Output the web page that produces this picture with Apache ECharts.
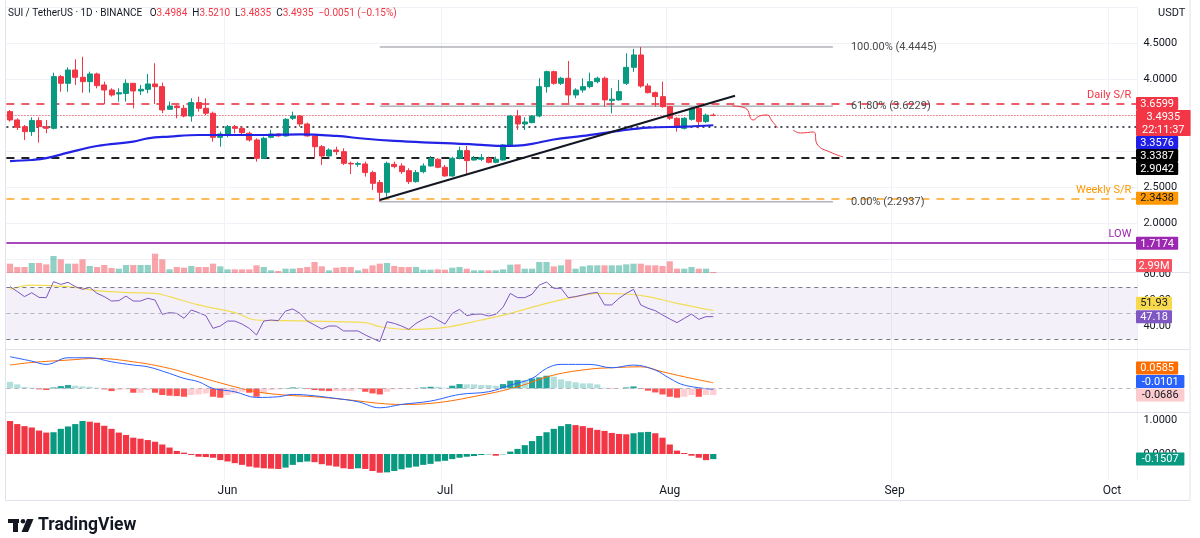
<!DOCTYPE html>
<html><head><meta charset="utf-8">
<script src="https://cdn.jsdelivr.net/npm/echarts@6/dist/echarts.min.js"></script>
<style>html,body{margin:0;padding:0;background:#fff}#c{width:1200px;height:538px}</style>
</head><body><div id="c"></div>
<script>
// ---------- DATA ----------
const startDate = [2025, 4, 2];   // first candle (May 2)
const slotCount = 156;            // visible daily slots up to early Oct
const monthNames = ['Jan','Feb','Mar','Apr','May','Jun','Jul','Aug','Sep','Oct','Nov','Dec'];

const opens = [3.547,3.431,3.338,3.269,3.422,3.338,3.315,4.033,3.94,4.125,
4.024,3.963,4.07,3.917,3.847,3.792,3.80,3.94,3.834,3.857,
3.931,3.894,3.579,3.625,3.593,3.486,3.672,3.593,3.524,3.19,
3.236,3.338,3.315,3.246,3.153,2.899,3.19,3.236,3.209,3.454,
3.486,3.375,3.209,3.06,2.931,3.014,2.991,2.829,2.815,2.82,
2.70,2.561,2.426,2.815,2.792,2.727,2.575,2.713,2.792,2.885,
2.774,2.653,2.899,3.005,2.875,2.885,2.899,2.843,2.875,3.083,
3.486,3.375,3.394,3.486,3.894,4.102,3.94,4.01,3.778,3.847,
3.894,3.963,4.01,3.70,3.71,3.94,4.162,4.334,3.903,3.81,
3.755,3.616,3.454,3.315,3.44,3.593,3.408,3.4984];
const highs = [3.57,3.454,3.361,3.468,3.468,3.431,4.088,4.056,4.162,4.274,
4.31,4.102,4.088,3.963,3.871,3.871,3.995,3.945,3.917,4.07,
4.218,3.95,3.685,3.639,3.639,3.732,3.755,3.732,3.547,3.269,
3.361,3.361,3.338,3.269,3.176,3.199,3.292,3.246,3.454,3.547,
3.50,3.394,3.222,3.083,3.037,3.06,3.037,2.852,2.85,2.852,
2.727,2.597,2.852,2.852,2.829,2.76,2.736,2.829,2.931,2.899,
2.806,2.922,3.06,3.07,2.931,2.958,2.922,2.922,3.097,3.50,
3.57,3.468,3.50,4.01,4.116,4.116,4.03,4.25,3.871,4.01,
4.088,4.033,4.033,3.871,3.986,4.357,4.42,4.4445,3.94,3.825,
3.963,3.625,3.47,3.47,3.61,3.62,3.52,3.521];
const lows = [3.408,3.292,3.153,3.209,3.116,3.246,3.30,3.824,3.824,3.917,
3.81,3.81,3.87,3.653,3.755,3.685,3.685,3.593,3.778,3.801,
3.653,3.524,3.57,3.454,3.468,3.408,3.547,3.50,3.13,3.06,
3.19,3.246,3.236,3.13,2.852,2.89,3.176,3.199,3.199,3.431,
3.338,3.199,2.899,2.806,2.922,2.945,2.806,2.681,2.78,2.644,
2.459,2.2937,2.366,2.76,2.681,2.542,2.56,2.69,2.783,2.76,
2.644,2.644,2.885,2.681,2.866,2.862,2.829,2.829,2.866,3.07,
3.292,3.292,3.385,3.468,3.81,3.92,3.917,3.663,3.732,3.81,
3.871,3.94,3.616,3.524,3.70,3.917,4.10,3.88,3.80,3.616,
3.60,3.431,3.269,3.30,3.42,3.315,3.39,3.4835];
const closes = [3.431,3.329,3.269,3.422,3.338,3.315,4.033,3.94,4.125,4.024,
3.963,4.07,3.908,3.847,3.778,3.81,3.94,3.834,3.857,3.931,
3.894,3.57,3.625,3.602,3.486,3.672,3.593,3.524,3.19,3.236,
3.338,3.315,3.255,3.153,2.899,3.176,3.236,3.209,3.44,3.486,
3.375,3.209,3.06,2.931,3.014,2.991,2.829,2.82,2.825,2.70,
2.551,2.426,2.829,2.783,2.713,2.575,2.70,2.792,2.899,2.774,
2.653,2.899,3.005,2.866,2.899,2.908,2.843,2.885,3.083,3.486,
3.375,3.403,3.486,3.894,4.102,3.94,4.01,3.778,3.847,3.894,
3.963,4.01,3.71,3.72,3.825,4.162,4.334,3.903,3.81,3.755,
3.616,3.454,3.338,3.454,3.593,3.408,3.4984,3.4935];
// volume in millions
const volumes = [28,18,18,30,30,26,51,41,28,28,
41,21,18,24,15,13,24,24,24,24,
58,41,11,18,16,21,18,18,28,20,
11,11,11,11,23,18,8,6,13,13,
15,18,33,20,8,16,18,18,8,13,
23,28,30,21,18,18,18,10,10,11,
10,16,18,13,8,8,8,8,11,25,
26,13,13,33,33,20,23,40,13,20,
23,23,23,23,23,26,28,28,23,23,
21,35,13,13,18,13,13,2.99];
// moving average on price, read at selected candles [index, value]
const maPoints = [[0,2.86],[3,2.875],[5,2.90],[8,2.977],[12,3.07],[17,3.13],[19,3.176],[22,3.20],[26,3.222],[31,3.222],[35,3.222],[40,3.232],[45,3.209],[49,3.17],[53,3.14],[57,3.12],[61,3.107],[65,3.085],[68,3.07],[70,3.075],[72,3.10],[75,3.16],[79,3.209],[84,3.28],[88,3.324],[93,3.338],[97,3.3576]];
const rsi = [70.3,66.5,62.6,65.6,62.0,61.8,74.1,72.0,73.6,70.3,
68.2,69.7,65.1,62.6,59.2,59.5,63.0,59.2,59.2,61.3,
60.0,49.0,50.3,49.7,45.9,52.3,50.3,48.0,38.2,40.0,
43.8,43.8,41.5,38.2,33.1,43.8,44.6,44.1,51.5,53.1,
49.7,43.8,40.8,37.7,40.0,40.0,36.2,36.2,36.2,33.1,
30.5,28.0,43.3,42.0,40.0,37.4,42.0,45.1,47.7,44.6,
41.5,49.7,52.8,48.0,49.0,49.2,47.7,49.0,54.4,65.1,
61.8,61.8,64.4,71.5,73.8,69.0,69.0,61.8,62.6,63.8,
65.1,65.9,56.2,56.2,61.3,65.1,68.2,56.2,53.6,51.8,
48.5,45.4,42.6,45.9,49.2,45.1,47.2,47.18];
const rsiMaPoints = [[0,68.2],[3,71.5],[8,70.3],[12,67.2],[17,65.6],[20,65.1],[22,62.6],[26,56.2],[31,50.3],[34,44.6],[38,44.1],[45,43.3],[49,42.6],[51,39.5],[55,37.4],[60,39],[65,44.6],[69,49.7],[74,57.4],[79,63.8],[81,65.1],[85,64.6],[88,62.6],[92,57.4],[97,51.93]];
const macdPoints = [[0,0.33],[3,0.284],[5,0.25],[8,0.319],[11,0.319],[14,0.277],[17,0.243],[19,0.225],[22,0.156],[24,0.104],[26,0.069],[28,0.0],[31,-0.035],[34,-0.094],[37,-0.087],[39,-0.063],[41,-0.07],[45,-0.105],[48,-0.139],[51,-0.202],[54,-0.167],[58,-0.132],[62,-0.063],[66,-0.035],[69,0.034],[72,0.104],[74,0.208],[76,0.25],[80,0.25],[83,0.215],[86,0.243],[89,0.191],[91,0.104],[93,0.034],[97,-0.0101]];
const signalPoints = [[0,0.243],[3,0.27],[8,0.295],[12,0.312],[17,0.277],[22,0.208],[26,0.121],[31,0.017],[34,-0.035],[38,-0.07],[42,-0.087],[47,-0.122],[51,-0.156],[54,-0.167],[58,-0.156],[65,-0.07],[70,0.017],[75,0.139],[80,0.201],[83,0.215],[87,0.225],[90,0.173],[93,0.121],[97,0.0585]];
const macdHist = [0.069,0.042,0.014,0.007,-0.01,-0.017,0.01,0.024,0.035,0.028,
0.021,0.017,0.007,-0.01,-0.028,-0.017,-0.01,-0.045,-0.045,-0.017,
-0.045,-0.069,-0.076,-0.08,-0.087,-0.069,-0.063,-0.052,-0.087,-0.097,
-0.069,-0.052,-0.035,-0.045,-0.087,-0.045,-0.017,-0.01,0.003,0.01,
0.01,-0.007,-0.017,-0.024,-0.028,-0.028,-0.028,-0.028,-0.01,-0.035,
-0.052,-0.063,-0.035,-0.01,-0.007,-0.007,0.0,0.01,0.017,0.017,
0.007,0.028,0.045,0.042,0.042,0.035,0.035,0.028,0.045,0.08,
0.087,0.087,0.104,0.115,0.132,0.122,0.094,0.076,0.063,0.052,
0.052,0.042,0.007,-0.003,-0.003,0.01,0.021,-0.007,-0.024,-0.042,
-0.063,-0.087,-0.097,-0.087,-0.069,-0.087,-0.069,-0.0686];
const ao = [0.97,0.88,0.82,0.78,0.69,0.63,0.64,0.74,0.81,0.88,
0.97,0.95,0.92,0.83,0.74,0.63,0.56,0.48,0.45,0.41,
0.36,0.28,0.19,0.09,0.04,-0.03,-0.08,-0.09,-0.11,-0.18,
-0.22,-0.27,-0.32,-0.37,-0.40,-0.42,-0.43,-0.44,-0.40,-0.32,
-0.24,-0.22,-0.24,-0.30,-0.34,-0.37,-0.42,-0.44,-0.42,-0.44,
-0.50,-0.55,-0.54,-0.50,-0.45,-0.40,-0.37,-0.32,-0.29,-0.22,
-0.20,-0.15,-0.11,-0.08,-0.06,-0.03,-0.01,-0.05,-0.01,0.07,
0.15,0.26,0.38,0.53,0.64,0.74,0.82,0.88,0.85,0.82,
0.77,0.71,0.68,0.62,0.59,0.58,0.61,0.64,0.65,0.61,
0.48,0.28,0.10,0.03,-0.05,-0.11,-0.18,-0.1507];
// levels and drawings
const dailySR = 3.6599, weeklySR = 2.3438, lowLevel = 1.7174;
const blackDotted = 3.3387, blackDashed = 2.9042;
const fibStart = 51, fibEnd = 113.5;
const fibLevels = [[4.4445,'100.00% (4.4445)'],[3.6229,'61.80% (3.6229)'],[2.2937,'0.00% (2.2937)']];
const trendPoints = [[51,2.32],[100,3.768]];
const pathPoints = [[99.6,3.625],[101.4,3.597],[102.5,3.43],[103.4,3.486],[104.4,3.50],[105.1,3.417],[105.9,3.32],null,[108,3.292],[109,3.25],[110.8,3.264],[111.4,3.083],[113.1,2.986],[114.9,2.917]];
const countdown = '22:11:37';

// ---------- BUILD ----------
const dates = [];
for (let k = 0; k < slotCount; k++) {
  const d = new Date(Date.UTC(startDate[0], startDate[1], startDate[2] + k));
  dates.push(d.toISOString().slice(0, 10));
}
const n = closes.length;
const candleData = opens.map((o, i) => [o, closes[i], lows[i], highs[i]]);
const UP = '#089981', DN = '#f23645';
const FONT = 'Roboto';
const volData = volumes.map((v, i) => ({value: v, itemStyle: {color: closes[i] >= opens[i] ? 'rgba(8,153,129,0.45)' : 'rgba(242,54,69,0.45)'}}));
const histData = macdHist.map((v, i) => {
  const p = i > 0 ? macdHist[i - 1] : v;
  let c;
  if (v >= 0) c = (i > 0 && v > p) ? '#26a69a' : '#b2dfdb';
  else c = (v < p) ? '#ff5252' : '#ffcdd2';
  return {value: v, itemStyle: {color: c}};
});
const aoData = ao.map((v, i) => ({value: v, itemStyle: {color: (i > 0 && v >= ao[i - 1]) ? UP : DN}}));

const L = 6.4, W = 1131;
const isMonthStart = (idx, val) => val.slice(8) === '01';
function catAxis(gi, showLabel) {
  return {
    type: 'category', gridIndex: gi, data: dates, boundaryGap: true,
    axisLine: {show: false}, axisTick: {show: false, alignWithLabel: true, interval: isMonthStart},
    axisLabel: showLabel ? {show: true, interval: isMonthStart, margin: 5, color: '#131722', fontSize: 12, fontFamily: FONT,
      formatter: v => monthNames[+v.slice(5, 7) - 1]} : {show: false},
    splitLine: {show: true, interval: isMonthStart, lineStyle: {color: '#f0f2f7', width: 1}}
  };
}
const lblStyle = {color: '#131722', fontSize: 11, fontFamily: FONT, margin: 6};

const option = {
  animation: false,
  backgroundColor: '#ffffff',
  grid: [
    {left: L, width: W, top: 7, height: 252},
    {left: L, width: W, top: 243, height: 30},
    {left: L, width: W, top: 274, height: 78},
    {left: L, width: W, top: 350, height: 67.2},
    {left: L, width: W, top: 403, height: 76.5}
  ],
  xAxis: [catAxis(0, false), catAxis(1, false), catAxis(2, false), catAxis(3, false), catAxis(4, true),
    {type: 'value', gridIndex: 0, min: -0.5, max: slotCount - 0.5, show: false}],
  yAxis: [
    {type: 'value', gridIndex: 0, position: 'right', min: 1.5, max: 5.0, interval: 0.5,
      axisLine: {show: false}, axisTick: {show: false},
      axisLabel: Object.assign({}, lblStyle, {formatter: v => (v >= 2 && v <= 4.5) ? v.toFixed(4) : ''}),
      splitLine: {show: true, lineStyle: {color: '#f0f2f7'}}},
    {type: 'value', gridIndex: 1, min: 0, max: 90, show: false},
    {type: 'value', gridIndex: 2, position: 'right', min: 20, max: 80, interval: 20,
      axisLine: {show: false}, axisTick: {show: false},
      axisLabel: Object.assign({}, lblStyle, {formatter: v => (v === 40 || v === 60 || v === 80) ? v.toFixed(2) : ''}),
      splitLine: {show: false}},
    {type: 'value', gridIndex: 3, position: 'right', min: -0.3, max: 0.4, interval: 0.1, show: false},
    {type: 'value', gridIndex: 4, position: 'right', min: -0.75, max: 1.5, interval: 0.25,
      axisLine: {show: false}, axisTick: {show: false},
      axisLabel: Object.assign({}, lblStyle, {formatter: v => (Math.abs(v) < 1e-9 || Math.abs(v - 1) < 1e-9) ? v.toFixed(4) : ''}),
      splitLine: {show: false}}
  ],
  series: [
    {type: 'candlestick', xAxisIndex: 0, yAxisIndex: 0, data: candleData, barWidth: 5.5, z: 2,
      itemStyle: {color: UP, color0: DN, borderColor: UP, borderColor0: DN, borderWidth: 1},
      markLine: {symbol: ['none', 'none'], silent: true, animation: false, z: 1,
        data: [
          {yAxis: dailySR, lineStyle: {color: '#ee5c69', type: [8, 7], width: 2},
            label: {show: true, position: 'insideEndTop', formatter: 'Daily S/R', color: '#f23645', fontSize: 11, fontFamily: FONT, distance: [6, 3]}},
          {yAxis: closes[n - 1], lineStyle: {color: '#f23645', type: [1, 2], width: 1}, label: {show: false}},
          {yAxis: blackDotted, lineStyle: {color: '#131722', type: [2, 4], width: 1.5}, label: {show: false}},
          {yAxis: blackDashed, lineStyle: {color: '#222', type: [8, 7], width: 2}, label: {show: false}},
          {yAxis: weeklySR, lineStyle: {color: '#ffa726', type: [8, 7], width: 1.5},
            label: {show: true, position: 'insideEndTop', formatter: 'Weekly S/R', color: '#ff9800', fontSize: 11, fontFamily: FONT, distance: [6, 3]}},
          {yAxis: lowLevel, lineStyle: {color: '#ab47bc', type: 'solid', width: 2},
            label: {show: true, position: 'insideEndTop', formatter: 'LOW', color: '#9c27b0', fontSize: 11, fontFamily: FONT, distance: [6, 3]}}
        ]}},
    {type: 'line', xAxisIndex: 0, yAxisIndex: 0, data: maPoints, smooth: 0.4, showSymbol: false, z: 4,
      lineStyle: {color: '#2323e6', width: 2.2}},
    {type: 'line', xAxisIndex: 5, yAxisIndex: 0, data: trendPoints, showSymbol: false, z: 5,
      lineStyle: {color: '#131722', width: 2}},
    ...fibLevels.map(f => ({type: 'line', xAxisIndex: 5, yAxisIndex: 0, showSymbol: false, z: 1,
      lineStyle: {color: '#8a8d96', width: 1},
      endLabel: {show: true, distance: 18, formatter: f[1], color: '#4a4a4a', fontSize: 11, fontFamily: FONT},
      data: [[fibStart, f[0]], [fibEnd, f[0]]]})),
    {type: 'line', xAxisIndex: 5, yAxisIndex: 0, data: pathPoints.map(p => p === null ? [null, null] : p), smooth: 0.5, showSymbol: false, z: 5,
      connectNulls: false, lineStyle: {color: '#f23645', width: 1}},
    {type: 'bar', xAxisIndex: 1, yAxisIndex: 1, data: volData, barWidth: 6.2, z: 1},
    {type: 'line', xAxisIndex: 2, yAxisIndex: 2, data: rsi, showSymbol: false, z: 4,
      lineStyle: {color: '#7e57c2', width: 1},
      markArea: {silent: true, itemStyle: {color: 'rgba(126,87,194,0.09)'}, data: [[{yAxis: 30}, {yAxis: 70}]]},
      markLine: {symbol: ['none', 'none'], silent: true, label: {show: false},
        data: [{yAxis: 70, lineStyle: {color: '#787b86', type: [4, 4], width: 1}},
               {yAxis: 50, lineStyle: {color: '#b2b5be', type: [4, 4], width: 1}},
               {yAxis: 30, lineStyle: {color: '#787b86', type: [4, 4], width: 1}}]}},
    {type: 'line', xAxisIndex: 2, yAxisIndex: 2, data: rsiMaPoints, smooth: 0.4, showSymbol: false, z: 3,
      lineStyle: {color: '#f3dd55', width: 1.2}},
    {type: 'bar', xAxisIndex: 3, yAxisIndex: 3, data: histData, barWidth: 6.2, z: 1,
      markLine: {symbol: ['none', 'none'], silent: true, label: {show: false},
        data: [{yAxis: 0, lineStyle: {color: '#b2b5be', type: [4, 4], width: 1}}]}},
    {type: 'line', xAxisIndex: 3, yAxisIndex: 3, data: macdPoints, smooth: 0.4, showSymbol: false, z: 4,
      lineStyle: {color: '#2962ff', width: 1}},
    {type: 'line', xAxisIndex: 3, yAxisIndex: 3, data: signalPoints, smooth: 0.4, showSymbol: false, z: 3,
      lineStyle: {color: '#ff6d00', width: 1}},
    {type: 'bar', xAxisIndex: 4, yAxisIndex: 4, data: aoData, barWidth: 6.2, z: 2}
  ]
};

const chart = echarts.init(document.getElementById('c'), null, {renderer: 'canvas'});
chart.setOption(option);

// ---------- price-scale tags & chrome ----------
const TAG_H = 13;
const tagGroups = [
  {axis: 0, dir: 'down', bottom: 272, tags: [
    {v: dailySR, lines: [dailySR.toFixed(4)], bg: '#f23645', fg: '#fff'},
    {v: closes[n - 1], lines: [closes[n - 1].toFixed(4), countdown], bg: '#f23645', fg: '#fff'},
    {v: maPoints[maPoints.length - 1][1], lines: [maPoints[maPoints.length - 1][1].toFixed(4)], bg: '#1f1fe8', fg: '#fff'},
    {v: blackDotted, lines: [blackDotted.toFixed(4)], bg: '#000', fg: '#fff'},
    {v: blackDashed, lines: [blackDashed.toFixed(4)], bg: '#000', fg: '#fff'},
    {v: weeklySR, lines: [weeklySR.toFixed(4)], bg: '#ff9800', fg: '#131722'},
    {v: lowLevel, lines: [lowLevel.toFixed(4)], bg: '#9c27b0', fg: '#fff'}]},
  {axis: 1, dir: 'up', bottom: 272, tags: [
    {v: volumes[n - 1], lines: [volumes[n - 1].toFixed(2) + 'M'], bg: '#f7525f', fg: '#fff'}]},
  {axis: 2, dir: 'up', bottom: 349, tags: [
    {v: rsiMaPoints[rsiMaPoints.length - 1][1], lines: [rsiMaPoints[rsiMaPoints.length - 1][1].toFixed(2)], bg: '#f7d94c', fg: '#131722'},
    {v: rsi[n - 1], lines: [rsi[n - 1].toFixed(2)], bg: '#7e57c2', fg: '#fff'}]},
  {axis: 3, dir: 'up', bottom: 412, tags: [
    {v: signalPoints[signalPoints.length - 1][1], lines: [signalPoints[signalPoints.length - 1][1].toFixed(4)], bg: '#ff6d00', fg: '#fff'},
    {v: macdPoints[macdPoints.length - 1][1], lines: [macdPoints[macdPoints.length - 1][1].toFixed(4)], bg: '#2962ff', fg: '#fff'},
    {v: macdHist[n - 1], lines: [macdHist[n - 1].toFixed(4)], bg: '#fccbcd', fg: '#131722'}]},
  {axis: 4, dir: 'up', bottom: 480, tags: [
    {v: ao[n - 1], lines: [ao[n - 1].toFixed(4)], bg: '#089981', fg: '#fff'}]}
];

const graphics = [];
tagGroups.forEach(g => {
  const list = g.tags.map(t => Object.assign({}, t, {y: chart.convertToPixel({yAxisIndex: g.axis}, t.v), h: TAG_H * t.lines.length}));
  list.sort((a, b) => a.y - b.y);
  if (g.dir === 'down') {
    let prev = -Infinity;
    list.forEach(t => { let top = t.y - TAG_H / 2; if (top < prev) top = prev; if (top + t.h > g.bottom) top = g.bottom - t.h; t.top = top; prev = top + t.h; });
  } else {
    let prev = Infinity;
    for (let k = list.length - 1; k >= 0; k--) {
      const t = list[k]; let top = t.y - TAG_H / 2;
      if (top + t.h > g.bottom) top = g.bottom - t.h;
      if (top + t.h > prev) top = prev - t.h;
      t.top = top; prev = top - 0.5;
    }
  }
  list.forEach(t => {
    const maxLen = Math.max(...t.lines.map(s => s.length));
    const w = maxLen * 6.2 + 5;
    graphics.push({type: 'rect', z: 100, shape: {x: 1136, y: t.top, width: w, height: t.h, r: 1}, style: {fill: t.bg}});
    t.lines.forEach((s, k) => graphics.push({type: 'text', z: 101, style: {text: s, x: 1136 + w / 2, y: t.top + TAG_H * k + TAG_H / 2 + 0.5,
      fill: t.fg, font: '11px ' + FONT, textAlign: 'center', textVerticalAlign: 'middle'}}));
  });
});

// pane separators and frame
[272.5, 349.5, 412.5].forEach(y => graphics.push({type: 'line', z: 0, shape: {x1: 5, y1: y, x2: 1190, y2: y}, style: {stroke: '#e0e3eb', lineWidth: 1}}));
graphics.push({type: 'rect', z: 0, shape: {x: 5.5, y: -1, width: 1184.5, height: 501.5}, style: {fill: 'none', stroke: '#e0e3eb', lineWidth: 1}});

// header
graphics.push({type: 'text', z: 120, style: {x: 8, y: 13, textVerticalAlign: 'middle',
  text: '{n|SUI / TetherUS · 1D · BINANCE   O}{r|' + opens[n - 1].toFixed(4) + '}{n|  H}{r|' + highs[n - 1].toFixed(4) +
        '}{n|  L}{r|' + lows[n - 1].toFixed(4) + '}{n|  C}{r|' + closes[n - 1].toFixed(4) + '  −0.0051 (−0.15%)}',
  rich: {n: {fill: '#131722', font: '10px ' + FONT}, r: {fill: '#f23645', font: '10px ' + FONT}}}});
graphics.push({type: 'text', z: 120, style: {x: 1158, y: 13, text: 'USDT', fill: '#131722', font: '11px ' + FONT, textAlign: 'left', textVerticalAlign: 'middle'}});

// TradingView logo
graphics.push({type: 'rect', z: 120, shape: {x: 8, y: 519, width: 11, height: 4}, style: {fill: '#131722'}});
graphics.push({type: 'rect', z: 120, shape: {x: 13, y: 519, width: 5, height: 13}, style: {fill: '#131722'}});
graphics.push({type: 'circle', z: 120, shape: {cx: 23, cy: 521.2, r: 2.3}, style: {fill: '#131722'}});
graphics.push({type: 'polygon', z: 120, shape: {points: [[27, 519], [33.5, 519], [28, 532], [21.5, 532]]}, style: {fill: '#131722'}});
graphics.push({type: 'text', z: 120, style: {x: 38, y: 526, text: 'TradingView', fill: '#131722', font: 'bold 17.5px ' + FONT, textVerticalAlign: 'middle'}});

chart.setOption({graphic: graphics});
</script></body></html>
